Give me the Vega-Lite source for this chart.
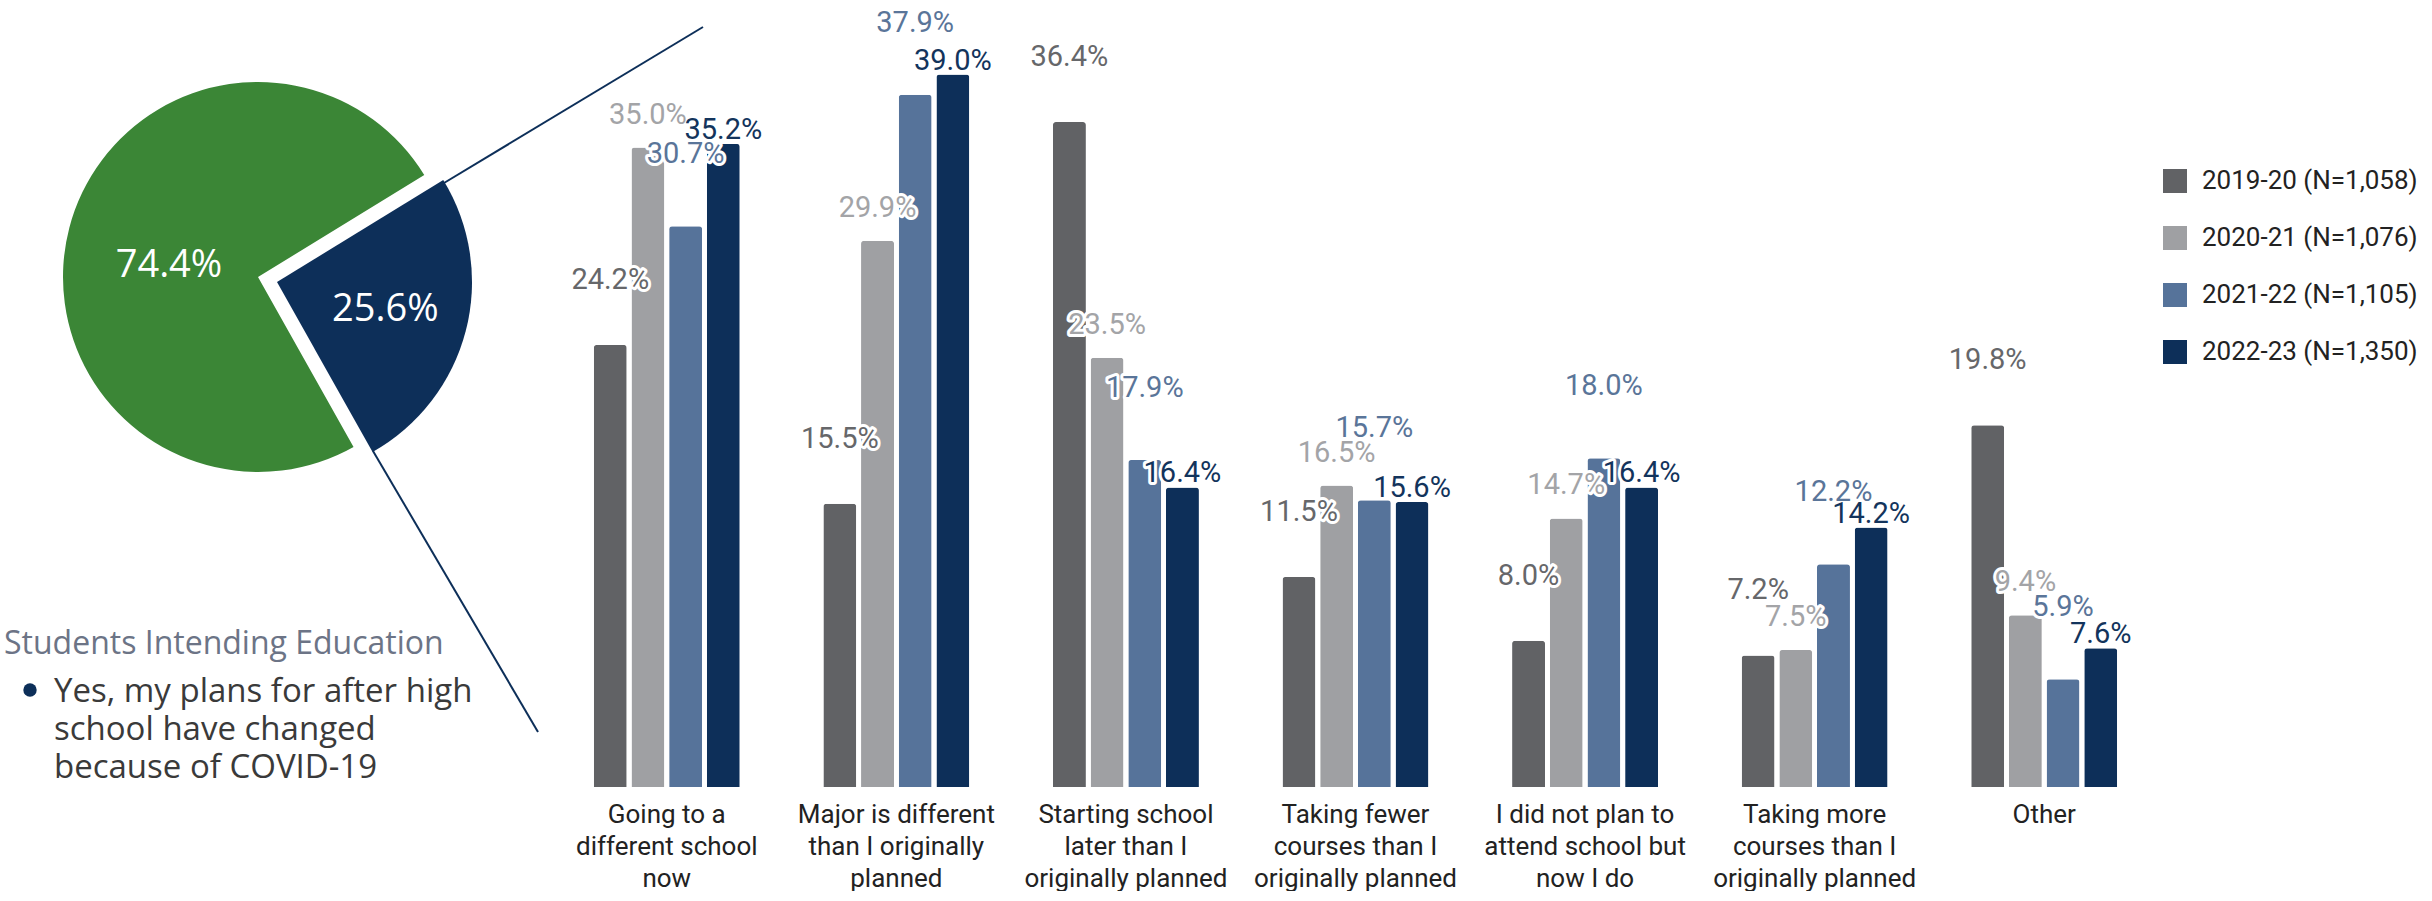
{
  "$schema": "https://vega.github.io/schema/vega-lite/v6.json",
  "padding": 0,
  "spacing": 0,
  "bounds": "flush",
  "background": "white",
  "config": {"view": {"stroke": null}},
  "resolve": {"scale": {"color": "independent"}, "legend": {"color": "independent"}},
  "datasets": {
    "pie": [
      {"answer": "No", "share": 0.744},
      {"answer": "Yes", "share": 0.256}
    ],
    "connectors": [
      {"x": 444, "y": 183, "x2": 703, "y2": 27},
      {"x": 373, "y": 451, "x2": 538, "y2": 732}
    ],
    "heading": [{"note": "Students Intending Education", "x": 4, "y": 654}],
    "bullettext": [{"note": "Yes, my plans for after high\nschool have changed\nbecause of COVID-19", "x": 54, "y": 702}],
    "bullet": [{"x": 30, "y": 690}],
    "bars": [
      {"reason": "Going to a\ndifferent school\nnow", "year": "2019-20 (N=1,058)", "value": 0.242},
      {"reason": "Going to a\ndifferent school\nnow", "year": "2020-21 (N=1,076)", "value": 0.350},
      {"reason": "Going to a\ndifferent school\nnow", "year": "2021-22 (N=1,105)", "value": 0.307},
      {"reason": "Going to a\ndifferent school\nnow", "year": "2022-23 (N=1,350)", "value": 0.352},
      {"reason": "Major is different\nthan I originally\nplanned", "year": "2019-20 (N=1,058)", "value": 0.155},
      {"reason": "Major is different\nthan I originally\nplanned", "year": "2020-21 (N=1,076)", "value": 0.299},
      {"reason": "Major is different\nthan I originally\nplanned", "year": "2021-22 (N=1,105)", "value": 0.379},
      {"reason": "Major is different\nthan I originally\nplanned", "year": "2022-23 (N=1,350)", "value": 0.390},
      {"reason": "Starting school\nlater than I\noriginally planned", "year": "2019-20 (N=1,058)", "value": 0.364},
      {"reason": "Starting school\nlater than I\noriginally planned", "year": "2020-21 (N=1,076)", "value": 0.235},
      {"reason": "Starting school\nlater than I\noriginally planned", "year": "2021-22 (N=1,105)", "value": 0.179},
      {"reason": "Starting school\nlater than I\noriginally planned", "year": "2022-23 (N=1,350)", "value": 0.164},
      {"reason": "Taking fewer\ncourses than I\noriginally planned", "year": "2019-20 (N=1,058)", "value": 0.115},
      {"reason": "Taking fewer\ncourses than I\noriginally planned", "year": "2020-21 (N=1,076)", "value": 0.165},
      {"reason": "Taking fewer\ncourses than I\noriginally planned", "year": "2021-22 (N=1,105)", "value": 0.157},
      {"reason": "Taking fewer\ncourses than I\noriginally planned", "year": "2022-23 (N=1,350)", "value": 0.156},
      {"reason": "I did not plan to\nattend school but\nnow I do", "year": "2019-20 (N=1,058)", "value": 0.080},
      {"reason": "I did not plan to\nattend school but\nnow I do", "year": "2020-21 (N=1,076)", "value": 0.147},
      {"reason": "I did not plan to\nattend school but\nnow I do", "year": "2021-22 (N=1,105)", "value": 0.180},
      {"reason": "I did not plan to\nattend school but\nnow I do", "year": "2022-23 (N=1,350)", "value": 0.164},
      {"reason": "Taking more\ncourses than I\noriginally planned", "year": "2019-20 (N=1,058)", "value": 0.072},
      {"reason": "Taking more\ncourses than I\noriginally planned", "year": "2020-21 (N=1,076)", "value": 0.075},
      {"reason": "Taking more\ncourses than I\noriginally planned", "year": "2021-22 (N=1,105)", "value": 0.122},
      {"reason": "Taking more\ncourses than I\noriginally planned", "year": "2022-23 (N=1,350)", "value": 0.142},
      {"reason": "Other", "year": "2019-20 (N=1,058)", "value": 0.198},
      {"reason": "Other", "year": "2020-21 (N=1,076)", "value": 0.094},
      {"reason": "Other", "year": "2021-22 (N=1,105)", "value": 0.059},
      {"reason": "Other", "year": "2022-23 (N=1,350)", "value": 0.076}
    ]
  },
  "hconcat": [
    {
      "width": 552,
      "height": 787,
      "layer": [
        {
          "data": {"name": "pie"},
          "mark": {"type": "arc", "radius": 195, "color": "#3b8636"},
          "encoding": {
            "theta": {"field": "share", "type": "quantitative", "stack": true, "scale": {"range": [1.021, 7.3042]}},
            "order": {"field": "answer", "sort": "descending"},
            "x": {"datum": 258, "type": "quantitative", "scale": {"domain": [0, 552], "nice": false, "zero": false}, "axis": null},
            "y": {"datum": 277, "type": "quantitative", "scale": {"domain": [0, 787], "nice": false, "zero": false, "reverse": true}, "axis": null},
            "opacity": {"condition": {"test": "datum.answer === 'No'", "value": 1}, "value": 0}
          }
        },
        {
          "data": {"name": "pie"},
          "mark": {"type": "arc", "radius": 195, "color": "#0d2f59"},
          "encoding": {
            "theta": {"field": "share", "type": "quantitative", "stack": true},
            "order": {"field": "answer", "sort": "descending"},
            "x": {"datum": 277, "type": "quantitative"},
            "y": {"datum": 282, "type": "quantitative"},
            "opacity": {"condition": {"test": "datum.answer === 'Yes'", "value": 1}, "value": 0}
          }
        },
        {
          "data": {"name": "pie"},
          "mark": {"type": "text", "radius": 92, "color": "white", "font": "Open Sans", "fontSize": 38, "align": "center", "baseline": "middle"},
          "encoding": {
            "theta": {"field": "share", "type": "quantitative", "stack": true},
            "order": {"field": "answer", "sort": "descending"},
            "text": {"field": "share", "type": "quantitative", "format": ".1%"},
            "x": {"datum": 258, "type": "quantitative"},
            "y": {"datum": 289, "type": "quantitative"},
            "opacity": {"condition": {"test": "datum.answer === 'No'", "value": 1}, "value": 0}
          }
        },
        {
          "data": {"name": "pie"},
          "mark": {"type": "text", "radius": 112, "color": "white", "font": "Open Sans", "fontSize": 38, "align": "center", "baseline": "middle"},
          "encoding": {
            "theta": {"field": "share", "type": "quantitative", "stack": true},
            "order": {"field": "answer", "sort": "descending"},
            "text": {"field": "share", "type": "quantitative", "format": ".1%"},
            "x": {"datum": 277, "type": "quantitative"},
            "y": {"datum": 282, "type": "quantitative"},
            "opacity": {"condition": {"test": "datum.answer === 'Yes'", "value": 1}, "value": 0}
          }
        },
        {
          "data": {"name": "connectors"},
          "mark": {"type": "rule", "color": "#0d2f59", "strokeWidth": 2},
          "encoding": {
            "x": {"field": "x", "type": "quantitative"},
            "y": {"field": "y", "type": "quantitative"},
            "x2": {"field": "x2"},
            "y2": {"field": "y2"}
          }
        },
        {
          "data": {"name": "heading"},
          "mark": {"type": "text", "font": "Open Sans", "fontSize": 32, "color": "#6c7486", "align": "left", "baseline": "alphabetic"},
          "encoding": {
            "x": {"field": "x", "type": "quantitative"},
            "y": {"field": "y", "type": "quantitative"},
            "text": {"field": "note"}
          }
        },
        {
          "data": {"name": "bullettext"},
          "mark": {"type": "text", "font": "Open Sans", "fontSize": 33, "color": "#3a3a3a", "align": "left", "baseline": "alphabetic", "lineBreak": "\n", "lineHeight": 38},
          "encoding": {
            "x": {"field": "x", "type": "quantitative"},
            "y": {"field": "y", "type": "quantitative"},
            "text": {"field": "note"}
          }
        },
        {
          "data": {"name": "bullet"},
          "mark": {"type": "point", "shape": "circle", "filled": true, "size": 180, "color": "#0d2f59", "opacity": 1},
          "encoding": {
            "x": {"field": "x", "type": "quantitative"},
            "y": {"field": "y", "type": "quantitative"}
          }
        }
      ]
    },
    {
      "width": 1607,
      "height": 787,
      "data": {"name": "bars"},
      "encoding": {
        "x": {
          "field": "reason", "type": "nominal", "sort": null, "title": null,
          "scale": {"paddingInner": 0.364, "paddingOuter": 0.182},
          "axis": {"domain": false, "ticks": false, "grid": false, "labelAngle": 0, "labelFont": "Roboto", "labelFontSize": 26, "labelColor": "#222222", "labelLineHeight": 32, "labelPadding": 14, "labelLimit": 400, "labelOverlap": false, "labelBaseline": "top", "labelExpr": "split(datum.label, '\\n')"}
        },
        "xOffset": {"field": "year", "type": "nominal", "sort": null, "scale": {"domain": ["2019-20 (N=1,058)", "2020-21 (N=1,076)", "2021-22 (N=1,105)", "2022-23 (N=1,350)"], "paddingInner": 0.125, "paddingOuter": 0}},
        "y": {"field": "value", "type": "quantitative", "scale": {"domain": [0, 0.4308], "nice": false}, "axis": null},
        "text": {"field": "value", "type": "quantitative", "format": ".1%"}
      },
      "layer": [
        {
          "mark": {"type": "bar", "cornerRadiusTopLeft": 3, "cornerRadiusTopRight": 3},
          "encoding": {
            "text": null,
            "color": {
              "field": "year", "type": "nominal", "sort": null,
              "scale": {"domain": ["2019-20 (N=1,058)", "2020-21 (N=1,076)", "2021-22 (N=1,105)", "2022-23 (N=1,350)"], "range": ["#616265", "#9fa0a3", "#56739a", "#0d2f59"]},
              "legend": {"title": null, "orient": "none", "legendX": 1610, "legendY": 168, "symbolType": "square", "symbolSize": 576, "symbolStrokeWidth": 0, "labelFont": "Roboto", "labelFontSize": 26, "labelColor": "#222222", "rowPadding": 31, "labelOffset": 14, "padding": 0, "labelLimit": 400}
            }
          }
        },
        {
          "transform": [{"filter": "datum.year === '2019-20 (N=1,058)'"}],
          "mark": {"type": "text", "font": "Roboto", "fontSize": 29, "dy": -65, "baseline": "middle", "align": "center", "fill": "white", "stroke": "white", "strokeWidth": 6, "strokeJoin": "round"}
        },
        {
          "transform": [{"filter": "datum.year === '2020-21 (N=1,076)'"}],
          "mark": {"type": "text", "font": "Roboto", "fontSize": 29, "dy": -33, "baseline": "middle", "align": "center", "fill": "white", "stroke": "white", "strokeWidth": 6, "strokeJoin": "round"}
        },
        {
          "transform": [{"filter": "datum.year === '2021-22 (N=1,105)'"}],
          "mark": {"type": "text", "font": "Roboto", "fontSize": 29, "dy": -72, "baseline": "middle", "align": "center", "fill": "white", "stroke": "white", "strokeWidth": 6, "strokeJoin": "round"}
        },
        {
          "transform": [{"filter": "datum.year === '2022-23 (N=1,350)'"}],
          "mark": {"type": "text", "font": "Roboto", "fontSize": 29, "dy": -14, "baseline": "middle", "align": "center", "fill": "white", "stroke": "white", "strokeWidth": 6, "strokeJoin": "round"}
        },
        {
          "transform": [{"filter": "datum.year === '2019-20 (N=1,058)'"}],
          "mark": {"type": "text", "font": "Roboto", "fontSize": 29, "dy": -65, "baseline": "middle", "align": "center", "color": "#66676a"}
        },
        {
          "transform": [{"filter": "datum.year === '2020-21 (N=1,076)'"}],
          "mark": {"type": "text", "font": "Roboto", "fontSize": 29, "dy": -33, "baseline": "middle", "align": "center", "color": "#a3a4a7"}
        },
        {
          "transform": [{"filter": "datum.year === '2021-22 (N=1,105)'"}],
          "mark": {"type": "text", "font": "Roboto", "fontSize": 29, "dy": -72, "baseline": "middle", "align": "center", "color": "#5a7599"}
        },
        {
          "transform": [{"filter": "datum.year === '2022-23 (N=1,350)'"}],
          "mark": {"type": "text", "font": "Roboto", "fontSize": 29, "dy": -14, "baseline": "middle", "align": "center", "color": "#13345c"}
        }
      ]
    }
  ]
}
